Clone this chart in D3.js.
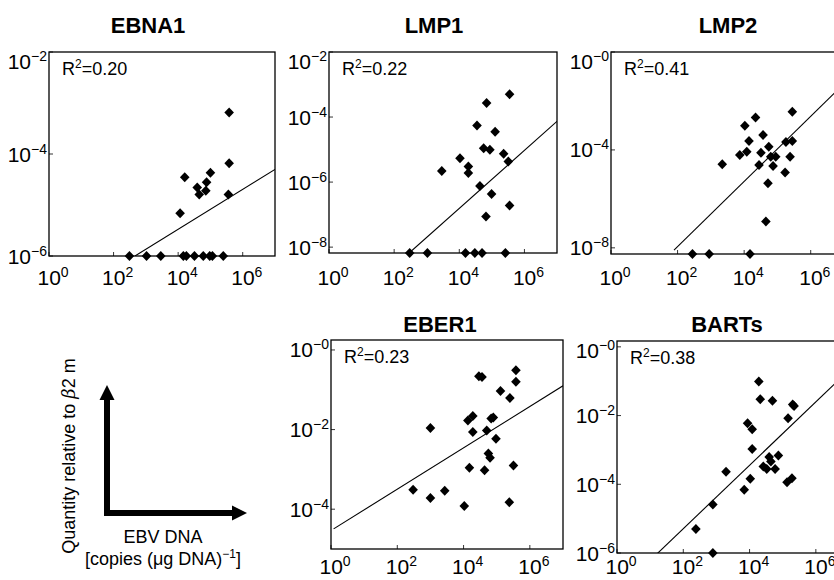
<!DOCTYPE html>
<html>
<head>
<meta charset="utf-8">
<script src="https://cdn.jsdelivr.net/npm/d3@7"></script>
<style>
body{margin:0;background:#fff;}
text{font-family:"Liberation Sans",Arial,sans-serif;fill:#000;}
</style>
</head>
<body>
<div id="paper"></div>
<script>
// values: x = EBV DNA copies/ug DNA, y = quantity relative to b2m
// points sitting on the bottom edge are the undetected ones (plotted at the axis minimum)
const names = ["EBNA1", "LMP1", "LMP2", "EBER1", "BARTs"];
const r2 = ["0.20", "0.22", "0.41", "0.23", "0.38"];

const xDomain = [1, 1e7];
const xTicks = [1, 1e2, 1e4, 1e6];

const yDomains = [[1e-6, 1e-2], [6.6e-9, 1e-2], [5.6e-9, 1], [1e-5, 1.78], [1e-6, 1.48]];
const yTicks = [[1e-6, 1e-4, 1e-2], [1e-8, 1e-6, 1e-4, 1e-2], [1e-8, 1e-4, 1], [1e-4, 1e-2, 1], [1e-6, 1e-4, 1e-2, 1]];

const ebna1X = [3.8e5, 3.8e5, 1.6e4, 1.0e5, 3.9e4, 7.6e4, 4.5e4, 7.2e4, 3.6e5, 1.15e4,
	3.1e2, 1.05e3, 2.9e3, 1.45e4, 1.8e4, 3.2e4, 6.0e4, 9.5e4, 1.15e5, 2.5e5];
const ebna1Y = [6.5e-4, 6.6e-5, 3.5e-5, 4.3e-5, 2.2e-5, 2.8e-5, 1.6e-5, 1.9e-5, 1.6e-5, 6.9e-6,
	1e-6, 1e-6, 1e-6, 1e-6, 1e-6, 1e-6, 1e-6, 1e-6, 1e-6, 1e-6];

const lmp1X = [3.5e5, 6.9e4, 3.5e4, 1.26e5, 5.6e4, 8.7e4, 2.3e5, 3.2e5, 1.05e4, 1.9e4, 1.9e4, 2.9e3, 4.3e4, 9.8e4, 3.5e5, 6.6e4,
	3.0e2, 1.05e3, 1.55e4, 3.0e4, 5.0e4, 2.6e5];
const lmp1Y = [5.0e-4, 2.7e-4, 5.5e-5, 3.5e-5, 1.1e-5, 9.8e-6, 7.4e-6, 4.3e-6, 5.4e-6, 3.0e-6, 1.9e-6, 2.2e-6, 7.6e-7, 4.3e-7, 1.9e-7, 8.7e-8,
	6.6e-9, 6.6e-9, 6.6e-9, 6.6e-9, 6.6e-9, 6.6e-9];

const lmp2X = [2.8e5, 2.2e4, 1.05e4, 3.7e4, 1.4e4, 1.8e5, 2.8e5, 5.5e4, 1.2e4, 7.4e3, 3.2e4, 6.3e4, 8.9e4, 2.4e5, 7.4e4, 2.8e4, 2.2e3, 1.7e5, 5.2e4, 4.5e4,
	2.8e2, 8.9e2, 1.5e4];
const lmp2Y = [3.6e-3, 2.1e-3, 9.8e-4, 4.1e-4, 2.3e-4, 2.1e-4, 2.3e-4, 1.35e-4, 8.5e-5, 6.2e-5, 7.6e-5, 5.2e-5, 5.2e-5, 5.2e-5, 2.2e-5, 2.4e-5, 2.6e-5, 1.2e-5, 4.4e-6, 1.2e-7,
	5.6e-9, 5.6e-9, 5.6e-9];

const eber1X = [3.8e5, 2.9e4, 3.6e4, 3.8e5, 1.3e5, 2.5e5, 1.9e4, 1.35e4, 7.9e4, 6.8e4, 1.0e3, 1.9e4,
	5.0e4, 9.5e4, 5.6e4, 6.3e4, 1.5e4, 4.3e4, 3.2e5, 3.0e2, 2.7e3, 1.0e3, 1.05e4, 2.4e5];
const eber1Y = [0.31, 0.22, 0.21, 0.16, 0.093, 0.062, 0.022, 0.017, 0.020, 0.019, 0.011, 8.7e-3,
	9.5e-3, 5.9e-3, 2.5e-3, 1.95e-3, 1.1e-3, 9.5e-4, 1.26e-3, 3.1e-4, 2.9e-4, 1.9e-4, 1.2e-4, 1.5e-4];

const bartsX = [1.9e4, 2.1e4, 4.9e4, 2.0e5, 2.2e5, 1.45e5, 8.7e3, 1.2e4, 1.2e4, 3.9e4, 7.4e4, 2.6e4,
	3.3e4, 4.4e4, 5.9e4, 1.95e3, 1.05e4, 1.35e5, 1.9e5, 6.9e3, 7.8e2, 2.4e2, 7.8e2];
const bartsY = [0.098, 0.030, 0.027, 0.021, 0.019, 8.3e-3, 6.0e-3, 4.0e-3, 1.07e-3, 6.2e-4, 6.9e-4, 3.3e-4,
	2.8e-4, 4.6e-4, 2.8e-4, 2.3e-4, 1.45e-4, 1.15e-4, 1.5e-4, 6.9e-5, 2.6e-5, 5.0e-6, 1e-6];

// regression lines, start and end
const fitLines = [
	[[4.6e2, 1e-6], [1e7, 5.0e-5]],
	[[2.9e2, 6.6e-9], [1e7, 7.4e-5]],
	[[78, 8.1e-9], [1e7, 5.1e-2]],
	[[1.2, 3.2e-5], [1e7, 0.126]],
	[[14, 8.3e-7], [1e7, 0.21]]
];

const xs = [ebna1X, lmp1X, lmp2X, eber1X, bartsX];
const ys = [ebna1Y, lmp1Y, lmp2Y, eber1Y, bartsY];

// panel boxes on the page
const layout = [
	{L: 49, T: 52, W: 226, H: 204, titleX: 148, titleY: 33, labelY: 285},
	{L: 329, T: 52, W: 228, H: 201, titleX: 434, titleY: 33, labelY: 285},
	{L: 611, T: 52, W: 233, H: 202, titleX: 728, titleY: 33, labelY: 285},
	{L: 331, T: 340, W: 232, H: 209, titleX: 440, titleY: 332, labelY: 574},
	{L: 617, T: 341, W: 232, H: 212, titleX: 727, titleY: 332, labelY: 574}
];

const svg = d3.select("#paper").append("svg")
	.attr("width", 834)
	.attr("height", 580);

const diamond = "M0,-5L4.8,0L0,5L-4.8,0Z";

// y axis writes 10^-0 for the top tick, x axis writes 10^0
let yExp = (v) => "\u2212" + Math.abs(Math.round(Math.log10(v)));
let xExp = (v) => "" + Math.round(Math.log10(v));

names.forEach((name, i) => {
	const lay = layout[i];
	const x = d3.scaleLog().domain(xDomain).range([lay.L, lay.L + lay.W]);
	const y = d3.scaleLog().domain(yDomains[i]).range([lay.T + lay.H, lay.T]);
	const g = svg.append("g");

	g.append("clipPath").attr("id", "clip" + i)
		.append("rect")
		.attr("x", lay.L).attr("y", lay.T)
		.attr("width", lay.W).attr("height", lay.H);

	// title
	g.append("text")
		.attr("x", lay.titleX).attr("y", lay.titleY)
		.attr("text-anchor", "middle")
		.attr("font-size", 22).attr("font-weight", "bold")
		.text(name);

	// small inner ticks
	g.selectAll(".xt").data(xTicks).join("line")
		.attr("x1", d => x(d)).attr("x2", d => x(d))
		.attr("y1", lay.T + lay.H).attr("y2", lay.T + lay.H - 4)
		.attr("stroke", "#000").attr("stroke-width", 0.8);
	g.selectAll(".yt").data(yTicks[i]).join("line")
		.attr("x1", lay.L).attr("x2", lay.L + 4)
		.attr("y1", d => y(d)).attr("y2", d => y(d))
		.attr("stroke", "#000").attr("stroke-width", 0.8);

	// x tick labels, "10" centred on the tick
	const xl = g.selectAll(".xl").data(xTicks).join("text")
		.attr("x", d => x(d) - 11.5)
		.attr("y", lay.labelY)
		.attr("font-size", 21);
	xl.append("tspan").text("10");
	xl.append("tspan").attr("dy", -8).attr("font-size", 14).text(d => xExp(d));

	// y tick labels
	const yl = g.selectAll(".yl").data(yTicks[i]).join("text")
		.attr("x", lay.L - 2)
		.attr("y", d => Math.max(y(d), lay.T + 9) + 7.5)
		.attr("text-anchor", "end")
		.attr("font-size", 21);
	yl.append("tspan").text("10");
	yl.append("tspan").attr("dy", -8).attr("font-size", 14).text(d => yExp(d));

	// frame
	g.append("rect")
		.attr("x", lay.L).attr("y", lay.T)
		.attr("width", lay.W).attr("height", lay.H)
		.attr("fill", "none").attr("stroke", "#000").attr("stroke-width", 1.3);

	const plot = g.append("g").attr("clip-path", `url(#clip${i})`);

	plot.append("path")
		.datum(fitLines[i])
		.attr("d", d3.line().x(d => x(d[0])).y(d => y(d[1])))
		.attr("fill", "none").attr("stroke", "#000").attr("stroke-width", 1.1);

	g.selectAll(".pt").data(d3.zip(xs[i], ys[i])).join("path")
		.attr("d", diamond)
		.attr("transform", d => `translate(${x(d[0])},${y(d[1])})`)
		.attr("fill", "#000");

	const r = g.append("text")
		.attr("x", lay.L + 13).attr("y", lay.T + 23)
		.attr("font-size", 18);
	r.append("tspan").text("R");
	r.append("tspan").attr("dy", -7).attr("font-size", 12).text("2");
	r.append("tspan").attr("dy", 7).text("=" + r2[i]);
});

// axis key in the empty corner
const key = svg.append("g");
key.append("path")
	.attr("d", "M107,399V513H233")
	.attr("fill", "none").attr("stroke", "#000")
	.attr("stroke-width", 6).attr("stroke-linejoin", "miter");
key.append("path").attr("d", "M107,385L99.5,400H114.5Z").attr("fill", "#000");
key.append("path").attr("d", "M247,513L232,505.5V520.5Z").attr("fill", "#000");

const vt = key.append("text")
	.attr("transform", "translate(75,456) rotate(-90)")
	.attr("text-anchor", "middle")
	.attr("font-size", 18);
vt.append("tspan").text("Quantity relative to ");
vt.append("tspan").attr("font-style", "italic").attr("font-family", "DejaVu Serif").text("\u03b2");
vt.append("tspan").text("2 m");

key.append("text")
	.attr("x", 163).attr("y", 543)
	.attr("text-anchor", "middle")
	.attr("font-size", 18)
	.text("EBV DNA");
const ht = key.append("text")
	.attr("x", 163).attr("y", 565)
	.attr("text-anchor", "middle")
	.attr("font-size", 18);
ht.append("tspan").text("[copies (\u03bcg DNA)");
ht.append("tspan").attr("dy", -7).attr("font-size", 12).text("\u22121");
ht.append("tspan").attr("dy", 7).text("]");
</script>
</body>
</html>
